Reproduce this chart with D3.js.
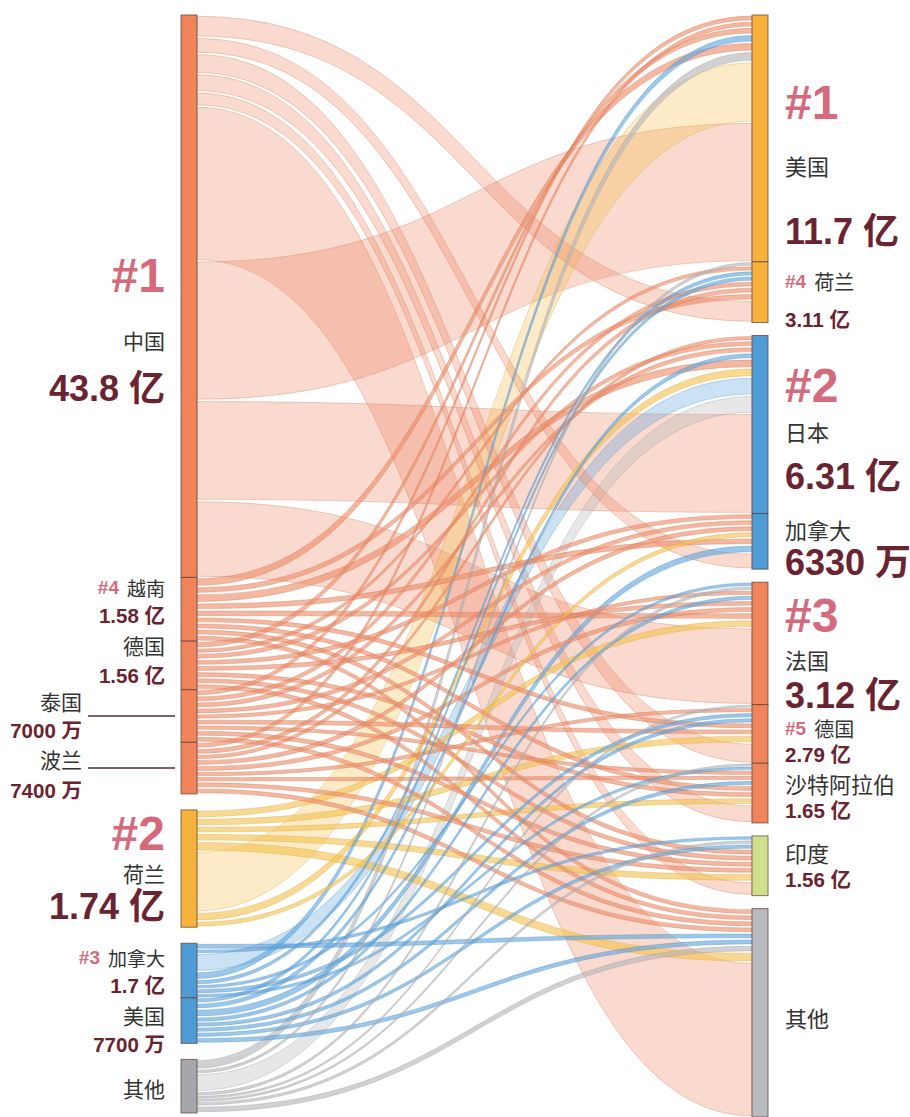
<!DOCTYPE html>
<html>
<head>
<meta charset="utf-8">
<script src="https://cdn.jsdelivr.net/npm/d3@7"></script>
<style>
  body { margin: 0; background: #fff; }
  svg { display: block; }
  .name { font-family: "Noto Sans CJK SC", "Noto Sans", sans-serif; fill: #333; }
  .num { font-family: "Liberation Sans", "Noto Sans CJK SC", sans-serif; font-weight: 700; fill: #6a2330; }
  .rank { font-family: "Liberation Sans", sans-serif; font-weight: 700; fill: #d46a7b; }
</style>
</head>
<body>
<div id="chart"></div>
<script>
// Exporters (left) and importers (right)
const exporters = ["中国", "越南", "德国", "泰国", "波兰", "荷兰", "加拿大", "美国", "其他"];
const exporterGroup = [0, 0, 0, 0, 0, 1, 2, 2, 3];
const exporterRank = ["#1", "#4", "", "", "", "#2", "#3", "", ""];
const exporterValue = ["43.8 亿", "1.58 亿", "1.56 亿", "7000 万", "7400 万", "1.74 亿", "1.7 亿", "7700 万", ""];

const importers = ["美国", "荷兰", "日本", "加拿大", "法国", "德国", "沙特阿拉伯", "印度", "其他"];
const importerGroup = [0, 0, 1, 1, 2, 2, 2, 3, 4];
const importerRank = ["#1", "#4", "#2", "", "#3", "#5", "", "", ""];
const importerValue = ["11.7 亿", "3.11 亿", "6.31 亿", "6330 万", "3.12 亿", "2.79 亿", "1.65 亿", "1.56 亿", ""];

// [exporter, importer, relative volume] in the order they leave the exporter
const flows = [
  ["中国", "荷兰", 22], ["中国", "加拿大", 16], ["中国", "德国", 20], ["中国", "沙特阿拉伯", 18], ["中国", "印度", 14],
  ["中国", "其他", 153], ["中国", "美国", 138], ["中国", "日本", 99], ["中国", "法国", 76],
  ["越南", "美国", 9], ["越南", "荷兰", 7], ["越南", "日本", 9], ["越南", "加拿大", 7], ["越南", "法国", 7],
  ["越南", "德国", 6], ["越南", "沙特阿拉伯", 6], ["越南", "印度", 6], ["越南", "其他", 6],
  ["德国", "美国", 7], ["德国", "荷兰", 5], ["德国", "日本", 6], ["德国", "加拿大", 6], ["德国", "法国", 6],
  ["德国", "沙特阿拉伯", 6], ["德国", "印度", 6], ["德国", "其他", 6],
  ["泰国", "美国", 6], ["泰国", "荷兰", 6], ["泰国", "日本", 6], ["泰国", "加拿大", 6], ["泰国", "法国", 5],
  ["泰国", "德国", 6], ["泰国", "沙特阿拉伯", 5], ["泰国", "印度", 6], ["泰国", "其他", 6],
  ["波兰", "美国", 6], ["波兰", "荷兰", 6], ["波兰", "日本", 5], ["波兰", "加拿大", 6], ["波兰", "法国", 6],
  ["波兰", "德国", 5], ["波兰", "沙特阿拉伯", 5], ["波兰", "印度", 6], ["波兰", "其他", 6],
  ["荷兰", "法国", 8], ["荷兰", "德国", 8], ["荷兰", "沙特阿拉伯", 7], ["荷兰", "印度", 8], ["荷兰", "其他", 10],
  ["荷兰", "美国", 60], ["荷兰", "日本", 9], ["荷兰", "加拿大", 6],
  ["加拿大", "其他", 6], ["加拿大", "印度", 4], ["加拿大", "日本", 18], ["加拿大", "美国", 8],
  ["加拿大", "荷兰", 5], ["加拿大", "法国", 4], ["加拿大", "德国", 5], ["加拿大", "沙特阿拉伯", 4],
  ["美国", "荷兰", 5], ["美国", "日本", 6], ["美国", "加拿大", 8], ["美国", "法国", 5],
  ["美国", "德国", 5], ["美国", "沙特阿拉伯", 5], ["美国", "印度", 5], ["美国", "其他", 6],
  ["其他", "美国", 10], ["其他", "荷兰", 4], ["其他", "日本", 18], ["其他", "法国", 4],
  ["其他", "德国", 3], ["其他", "沙特阿拉伯", 3], ["其他", "印度", 4], ["其他", "其他", 7]
];

// colours
const groupColorL = ["#f0845a", "#f6b23d", "#4e9bd6", "#a5a7ac"];
const groupColorR = ["#f6b23d", "#4e9bd6", "#f0845a", "#cfe08c", "#b9bbc0"];
const linkColorL = ["#ee8a66", "#f5c24e", "#5ea5de", "#b4b5b9"];

// label placement relative to each node top
const labelL = [
  { big: true, rank: 260, name: 325, value: 373 },
  { rank: 10, name: 10, value: 38 },
  { name: 4, value: 34 },
  { name: 11, value: 41, x: 82, leader: true },
  { name: 17, value: 48, x: 82, leader: true },
  { big: true, rank: 24, name: 63, value: 97 },
  { rank: 14, name: 14, value: 42 },
  { name: 17, value: 47 },
  { name: 29 }
];
const labelR = [
  { big: true, rank: 87, name: 150, value: 216 },
  { rank: 19, name: 19, value: 58 },
  { big: true, rank: 50, name: 95, value: 141 },
  { bigValue: true, name: 15, value: 49 },
  { big: true, rank: 33, name: 77, value: 113 },
  { rank: 23, name: 23, value: 50 },
  { name: 20, value: 47 },
  { name: 16, value: 44 },
  { name: 108 }
];

const W = 910, H = 1117, yTop = 15;
const xL0 = 181, xL1 = 197, xR0 = 752, xR1 = 768;
const gapL = 16, gapR = 13;

const svg = d3.select("#chart").append("svg").attr("width", W).attr("height", H);

// build nodes
const left = exporters.map((n, i) => ({ name: n, i, group: exporterGroup[i], out: [], value: 0 }));
const right = importers.map((n, i) => ({ name: n, i, group: importerGroup[i], inc: [], value: 0 }));
const links = flows.map(([s, t, v], idx) => {
  const src = left.find(d => d.name === s);
  const tgt = right.find(d => d.name === t);
  const l = { src, tgt, v, idx };
  src.out.push(l); src.value += v;
  tgt.inc.push(l); tgt.value += v;
  return l;
});

const total = d3.sum(links, d => d.v);
const nGapsR = d3.max(importerGroup);
const y = d3.scaleLinear().domain([0, total]).range([0, H - yTop - nGapsR * gapR]);

function stack(nodes, gap) {
  let cur = yTop;
  nodes.forEach((d, i) => {
    if (i > 0 && d.group !== nodes[i - 1].group) cur += gap;
    d.y0 = cur;
    d.y1 = cur + y(d.value);
    cur = d.y1;
  });
}
stack(left, gapL);
stack(right, gapR);

left.forEach(n => {
  let c = n.y0;
  n.out.forEach(l => { l.w = y(l.v); l.sy = c; c += l.w; });
});
right.forEach(n => {
  let c = n.y0;
  n.inc.slice().sort((a, b) => a.v - b.v || a.src.i - b.src.i || a.idx - b.idx)
    .forEach(l => { l.ty = c; c += l.w; });
});

function band(l) {
  const x0 = xL1, x1 = xR0, xm = (x0 + x1) / 2;
  const ins = Math.min(1.2, l.w * 0.18);
  const a0 = l.sy + ins, a1 = l.sy + l.w - ins;
  const b0 = l.ty + ins, b1 = l.ty + l.w - ins;
  const p = d3.path();
  p.moveTo(x0, a0);
  p.bezierCurveTo(xm, a0, xm, b0, x1, b0);
  p.lineTo(x1, b1);
  p.bezierCurveTo(xm, b1, xm, a1, x0, a1);
  p.closePath();
  return p.toString();
}

svg.append("g")
  .selectAll("path")
  .data(links.slice().sort((a, b) => b.v - a.v))
  .join("path")
  .attr("d", band)
  .attr("fill", d => linkColorL[d.src.group])
  .attr("fill-opacity", d => d.v >= 12 ? 0.32 : 0.62)
  .attr("stroke", d => d3.color(linkColorL[d.src.group]).darker(0.4))
  .attr("stroke-opacity", 0.5)
  .attr("stroke-width", 0.7);

// nodes
svg.append("g").selectAll("rect").data(left).join("rect")
  .attr("x", xL0).attr("width", xL1 - xL0)
  .attr("y", d => d.y0).attr("height", d => d.y1 - d.y0)
  .attr("fill", d => groupColorL[d.group])
  .attr("stroke", "#5b3b30").attr("stroke-opacity", 0.7).attr("stroke-width", 1);

svg.append("g").selectAll("rect").data(right).join("rect")
  .attr("x", xR0).attr("width", xR1 - xR0)
  .attr("y", d => d.y0).attr("height", d => d.y1 - d.y0)
  .attr("fill", d => groupColorR[d.group])
  .attr("stroke", "#5b3b30").attr("stroke-opacity", 0.7).attr("stroke-width", 1);

// labels
function drawLabels(nodes, spec, ranks, values, side) {
  const g = svg.append("g");
  nodes.forEach((n, i) => {
    const s = spec[i];
    const x = side === "L" ? (s.x || 165) : 785;
    const anchor = side === "L" ? "end" : "start";
    const nameSize = side === "L" ? 21 : 22;
    if (s.big) {
      g.append("text").attr("class", "rank").attr("x", x).attr("y", n.y0 + s.rank)
        .attr("dominant-baseline", "central").attr("text-anchor", anchor)
        .attr("font-size", 48).text(ranks[i]);
      g.append("text").attr("class", "name").attr("x", x).attr("y", n.y0 + s.name)
        .attr("dominant-baseline", "central").attr("text-anchor", anchor)
        .attr("font-size", nameSize).text(n.name);
      g.append("text").attr("class", "num").attr("x", x).attr("y", n.y0 + s.value)
        .attr("dominant-baseline", "central").attr("text-anchor", anchor)
        .attr("font-size", 36).text(values[i]);
      return;
    }
    const t = g.append("text").attr("x", x).attr("y", n.y0 + s.name)
      .attr("dominant-baseline", "central").attr("text-anchor", anchor);
    if (ranks[i]) {
      t.append("tspan").attr("class", "rank").attr("font-size", 19).text(ranks[i]);
      t.append("tspan").attr("class", "name").attr("font-size", nameSize - 2).attr("dx", 8).text(n.name);
    } else {
      t.append("tspan").attr("class", "name").attr("font-size", nameSize).text(n.name);
    }
    if (values[i]) {
      g.append("text").attr("class", "num").attr("x", x).attr("y", n.y0 + s.value)
        .attr("dominant-baseline", "central").attr("text-anchor", anchor)
        .attr("font-size", s.bigValue ? 36 : 20.5).text(values[i]);
    }
    if (s.leader) {
      const ym = (n.y0 + n.y1) / 2;
      g.append("line").attr("x1", 88).attr("x2", 175).attr("y1", ym).attr("y2", ym)
        .attr("stroke", "#5a2a35").attr("stroke-width", 1.5);
    }
  });
}
drawLabels(left, labelL, exporterRank, exporterValue, "L");
drawLabels(right, labelR, importerRank, importerValue, "R");
</script>
</body>
</html>
